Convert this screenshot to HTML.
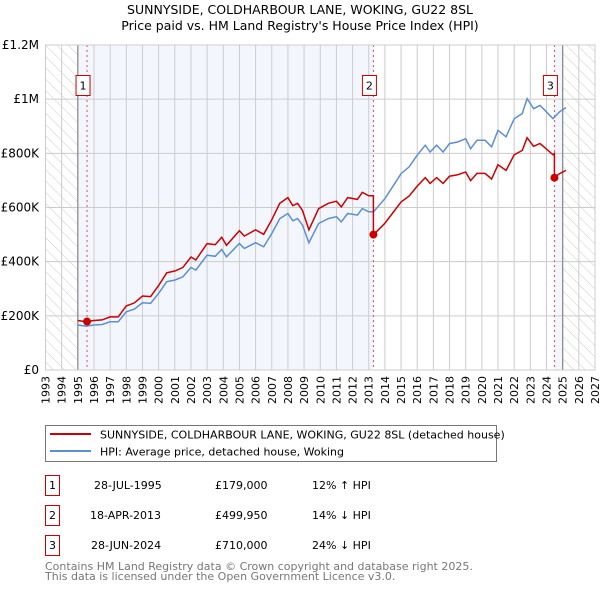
<!DOCTYPE html>
<html><head><meta charset="utf-8"><style>
body{margin:0;background:#fff;font-family:"DejaVu Sans","Liberation Sans",sans-serif;}
svg{display:block}
</style></head><body>
<svg id="chart" width="600" height="590" xmlns="http://www.w3.org/2000/svg">
<defs>
<pattern id="hatch" patternUnits="userSpaceOnUse" width="8" height="8" patternTransform="rotate(-45)">
<line x1="0" y1="0" x2="0" y2="8" stroke="#ccc" stroke-width="1"/>
</pattern>
</defs>
<text x="300" y="14" text-anchor="middle" font-size="12.5" fill="#000">SUNNYSIDE, COLDHARBOUR LANE, WOKING, GU22 8SL</text>
<text x="300" y="30" text-anchor="middle" font-size="12.5" fill="#000">Price paid vs. HM Land Registry's House Price Index (HPI)</text>
<g id="plot"></g>
<g>
<rect x="45.5" y="425.5" width="451" height="36" fill="#fff" stroke="#777"/>
<line x1="50" y1="434" x2="91" y2="434" stroke="#cc0000" stroke-width="2"/>
<text x="100" y="438.5" font-size="11">SUNNYSIDE, COLDHARBOUR LANE, WOKING, GU22 8SL (detached house)</text>
<line x1="50" y1="451" x2="91" y2="451" stroke="#5b8fd4" stroke-width="2"/>
<text x="100" y="455.5" font-size="11">HPI: Average price, detached house, Woking</text>
</g>
<g font-size="11">
<rect x="45.5" y="475.5" width="14" height="20" fill="none" stroke="#cc0000"/><text x="52.5" y="489" text-anchor="middle">1</text>
<text x="94" y="489">28-JUL-1995</text><text x="215" y="489">£179,000</text><text x="312" y="489">12% ↑ HPI</text>
<rect x="45.5" y="505.5" width="14" height="20" fill="none" stroke="#cc0000"/><text x="52.5" y="519" text-anchor="middle">2</text>
<text x="90" y="519">18-APR-2013</text><text x="215" y="519">£499,950</text><text x="312" y="519">14% ↓ HPI</text>
<rect x="45.5" y="535.5" width="14" height="20" fill="none" stroke="#cc0000"/><text x="52.5" y="549" text-anchor="middle">3</text>
<text x="91" y="549">28-JUN-2024</text><text x="215" y="549">£710,000</text><text x="312" y="549">24% ↓ HPI</text>
</g>
<text x="45" y="570" font-size="11" fill="#777">Contains HM Land Registry data © Crown copyright and database right 2025.</text>
<text x="45" y="580" font-size="11" fill="#777">This data is licensed under the Open Government Licence v3.0.</text>
</svg>
<script>
const hpiYears=[1995.0,1995.5,1996.0,1996.5,1997.0,1997.5,1998.0,1998.5,1999.0,1999.5,2000.0,2000.5,2001.0,2001.5,2002.0,2002.3,2003.0,2003.5,2003.9,2004.2,2005.0,2005.3,2006.0,2006.5,2007.0,2007.5,2008.0,2008.3,2008.6,2008.9,2009.3,2009.9,2010.5,2011.0,2011.3,2011.7,2012.3,2012.6,2013.0,2013.3,2014.0,2014.6,2015.0,2015.5,2016.0,2016.5,2016.8,2017.2,2017.6,2018.0,2018.5,2019.0,2019.3,2019.7,2020.2,2020.6,2021.0,2021.5,2022.0,2022.5,2022.8,2023.2,2023.6,2023.9,2024.4,2024.8,2025.2];
const hpiValues=[166000,162000,166000,168000,178000,178000,215000,225000,248000,246000,283000,326000,332000,344000,379000,369000,424000,420000,445000,418000,467000,449000,470000,455000,504000,559000,578000,551000,559000,535000,470000,541000,559000,566000,547000,578000,572000,596000,584000,584000,633000,688000,725000,750000,793000,830000,805000,830000,805000,836000,842000,854000,817000,848000,848000,824000,885000,861000,928000,947000,1002000,965000,977000,959000,928000,953000,969000];
const saleYears=[1995.57,2013.29,2024.49];
const salePrices=[179000,499950,710000];
const saleLabels=["1","2","3"];
const yTicks=[0,200000,400000,600000,800000,1000000,1200000];
const yTickLabels=["£0","£200K","£400K","£600K","£800K","£1M","£1.2M"];
const xStart=1993,xEnd=2027;
const L=45.5,R=595,T=45,B=370;
const X=y=>L+(y-xStart)/(xEnd-xStart)*(R-L);
const Y=v=>B-v/1200000*(B-T);
const ns="http://www.w3.org/2000/svg";
const g=document.getElementById('plot');
function mk(tag,attrs,parent){const e=document.createElementNS(ns,tag);for(const k in attrs)e.setAttribute(k,attrs[k]);(parent||g).appendChild(e);return e;}
function hpiAt(t){for(let i=1;i<hpiYears.length;i++){if(t<=hpiYears[i]){const f=(t-hpiYears[i-1])/(hpiYears[i]-hpiYears[i-1]);return hpiValues[i-1]+f*(hpiValues[i]-hpiValues[i-1]);}}return hpiValues[hpiValues.length-1];}
let r=mk('rect',{x:X(1995),y:T,width:X(2013.29)-X(1995),height:B-T,fill:'#eef3fc',opacity:0.7});


r=mk('rect',{x:X(2024.49),y:T,width:X(2025)-X(2024.49),height:B-T,fill:'#eef3fc',opacity:0.7});


r=mk('rect',{x:L,y:T,width:X(1995)-L,height:B-T,fill:'url(#hatch)'});


r=mk('rect',{x:X(2025),y:T,width:R-X(2025),height:B-T,fill:'url(#hatch)'});


for(let yr=xStart;yr<=xEnd;yr++){
 const x=X(yr);
 const ln=mk('line',{x1:x,y1:T,x2:x,y2:B,stroke:'#ccc','stroke-width':1});
 
 
 const tx=mk('text',{x:0,y:0,'font-size':11,'text-anchor':'end',transform:`translate(${x+4},${B+6}) rotate(-90)`});
 tx.textContent=yr;
 
 
}
yTicks.forEach((v,i)=>{
 const ln=mk('line',{x1:L,y1:Y(v),x2:R,y2:Y(v),stroke:'#ccc','stroke-width':1});
 
 
 const tx=mk('text',{x:39,y:Y(v)+4,'font-size':12,'text-anchor':'end'});
 tx.textContent=yTickLabels[i];
 
 
});
[1995,2025].forEach(yr=>{const ln=mk('line',{x1:X(yr),y1:T,x2:X(yr),y2:B,stroke:'#888','stroke-width':1.2});

});
saleYears.forEach((s,i)=>{
 const ln=mk('line',{x1:X(s),y1:T,x2:X(s),y2:B,stroke:'#e05050','stroke-width':1,'stroke-dasharray':'2,3'});
 
 
});
let d=hpiYears.map((t,i)=>(i?'L':'M')+X(t).toFixed(1)+','+Y(hpiValues[i]).toFixed(1)).join('');
const hp=mk('path',{d:d,fill:'none',stroke:'#5b8fd4','stroke-width':1.5});


let pts=[];
hpiYears.forEach((t,i)=>{
 const k=(t<saleYears[1])?0:(t<saleYears[2]?1:2);
 pts.push([t,hpiValues[i]*salePrices[k]/hpiAt(saleYears[k])]);
});
saleYears.forEach((s,k)=>{
 if(k>0){const prev=hpiAt(s)*salePrices[k-1]/hpiAt(saleYears[k-1]);pts.push([s-0.001,prev]);}
 pts.push([s,salePrices[k]]);
});
pts.sort((a,b)=>a[0]-b[0]);
d=pts.map((p,i)=>(i?'L':'M')+X(p[0]).toFixed(1)+','+Y(p[1]).toFixed(1)).join('');
const pp=mk('path',{d:d,fill:'none',stroke:'#cc0000','stroke-width':1.5});


saleYears.forEach((s,i)=>{
 const c=mk('circle',{cx:X(s),cy:Y(salePrices[i]),r:4,fill:'#cc0000'});
 
 
 const bx=X(s)-4;
 const rb=mk('rect',{x:bx-7,y:75.5,width:14,height:20,fill:'#fff',stroke:'#cc0000'});
 
 
 const tx=mk('text',{x:bx,y:89.5,'font-size':11,'text-anchor':'middle'});
 tx.textContent=saleLabels[i];
 
 
});
const fr=mk('rect',{x:L,y:T,width:R-L,height:B-T,fill:'none',stroke:'#ccc'});


</script>
</body></html>
